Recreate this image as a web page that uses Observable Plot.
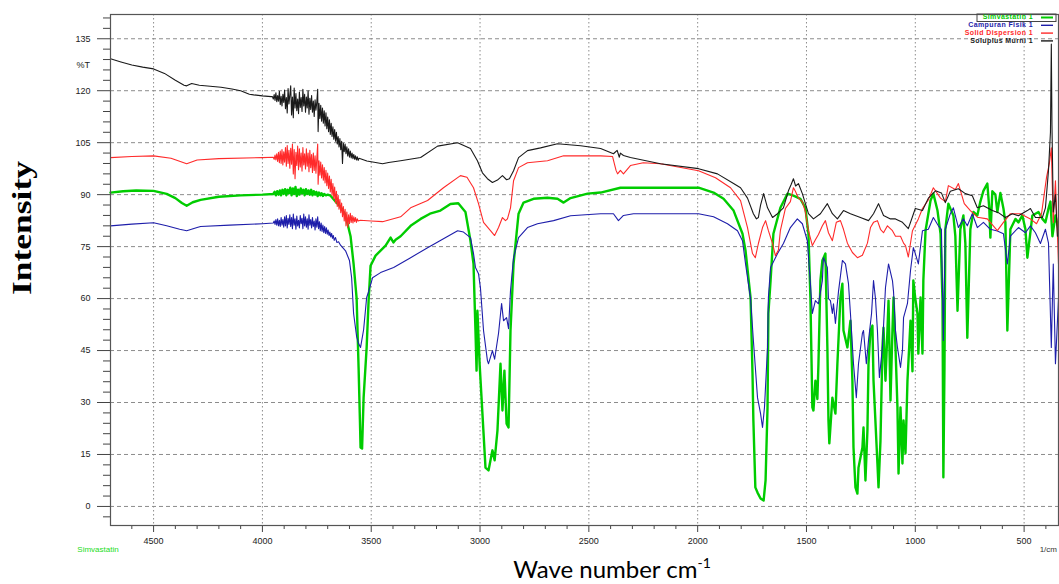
<!DOCTYPE html>
<html>
<head>
<meta charset="utf-8">
<script src="https://cdn.jsdelivr.net/npm/d3@7"></script>
<script src="https://cdn.jsdelivr.net/npm/@observablehq/plot@0.6"></script>
<style>
  html, body { margin: 0; padding: 0; background: #fff; }
  svg { display: block; }
</style>
</head>
<body>
<script>
// FTIR spectra: [wavenumber (1/cm), %T]
const xTicks = [4500, 4000, 3500, 3000, 2500, 2000, 1500, 1000, 500];
const yTicks = [0, 15, 30, 45, 60, 75, 90, 105, 120, 135];

const seriesNames = ["Simvastatin 1", "Campuran Fisik 1", "Solid Dispersion 1", "Soluplus Murni 1"];
const seriesColors = ["#00cc00", "#1e1eaa", "#ff2a2a", "#1a1a1a"];

const simvastatin = [
  [4698,90.6],[4640,91],[4580,91.2],[4500,91.1],[4440,90.2],[4400,89],[4370,87.6],[4348,86.8],[4320,87.8],[4284,88.5],
  [4200,89.4],[4100,89.8],[4000,90],[3950,90.2],[3944,90.8],[3938,89.8],[3932,91],[3926,90],[3920,91.2],[3914,89.8],
  [3908,91.4],[3902,90.2],[3896,91.6],[3890,89.8],[3884,91.4],[3878,90.4],[3872,92],[3866,89.8],[3860,91.8],[3854,90.2],
  [3848,92.2],[3842,89.6],[3836,91.4],[3830,90],[3824,91.8],[3818,90.4],[3812,91.4],[3806,89.8],[3800,91.6],[3794,90.2],
  [3788,91.2],[3782,90],[3776,91.4],[3770,89.8],[3764,91],[3758,90],[3752,90.8],[3746,89.6],[3740,90.6],[3734,89.8],
  [3728,90.4],[3722,89.6],[3716,90.2],[3708,89.8],[3700,90],[3687,89.7],[3664,88],[3641,86.5],[3618,84],[3595,78],
  [3581,70],[3567,60],[3558,40],[3552,25],[3549,17],[3542,16.7],[3535,31.4],[3521,45.9],[3512,59.4],[3503,69.5],
  [3480,72.4],[3434,75.3],[3411,77.6],[3398,76.2],[3388,77],[3365,78],[3319,81],[3273,83],[3230,84.5],[3182,85.4],
  [3136,87.3],[3100,87.5],[3067,85],[3044,76.7],[3030,70],[3021,50.8],[3016,39.2],[3012,56.5],[3002,41.2],[2989,26.8],
  [2975,11.2],[2961,10.4],[2950,14],[2943,16.2],[2933,13.3],[2920,21.9],[2906,41.2],[2897,27.7],[2888,39.2],[2878,23.9],
  [2869,22.8],[2860,50.8],[2846,70],[2823,84.5],[2800,87.7],[2754,88.8],[2690,89.1],[2644,88.8],[2616,87.7],[2584,89],
  [2506,90.3],[2446,90.6],[2355,92],[2200,92],[1996,92],[1927,90.6],[1881,88.8],[1835,85.4],[1794,78.7],[1780,73.8],
  [1757,60.3],[1748,38.4],[1744,24.8],[1735,5.5],[1725,4],[1711,2.3],[1697,1.7],[1688,7.5],[1679,28.6],[1675,55.7],
  [1665,65.2],[1652,78.7],[1620,86.2],[1587,90.3],[1560,89.7],[1528,88.8],[1505,86.2],[1491,78.7],[1482,60.3],[1473,28.6],
  [1468,27.7],[1459,36.3],[1450,31],[1445,41.2],[1436,65.2],[1427,71],[1413,73],[1404,45.9],[1399,24.8],[1395,18.2],
  [1381,31.4],[1367,26.8],[1358,41.2],[1344,60.3],[1335,64.3],[1330,50.8],[1312,45.9],[1298,53.6],[1289,36.3],[1284,17],
  [1275,5.5],[1266,3.7],[1261,11.2],[1243,17],[1238,22.8],[1229,7.5],[1220,21.9],[1215,41.2],[1206,50.8],[1197,52.2],
  [1192,36.3],[1174,12.4],[1169,5.5],[1160,19],[1151,45.9],[1146,51.6],[1137,36.3],[1128,50.8],[1123,59.4],[1114,30.6],
  [1105,50.8],[1100,60.3],[1091,45.9],[1082,28.6],[1077,9.5],[1068,28.6],[1059,12.4],[1054,24.8],[1045,15.3],[1036,36.3],
  [1032,41.2],[1022,53.6],[1013,39],[1009,65.2],[1000,60],[990,55.7],[986,44.1],[976,60.3],[967,44.1],[963,65.2],
  [953,79.6],[930,88.3],[917,90.3],[898,85.4],[884,78.7],[875,59.4],[871,8.4],[866,40],[862,80],[848,87.4],
  [839,86],[825,84],[816,78],[806,56.5],[793,80],[779,84],[770,76],[761,48.7],[747,80],[733,85],
  [715,84],[701,88],[687,91.1],[669,93.2],[660,86],[655,77.6],[646,91],[632,90],[623,85],[609,90.5],
  [595,86],[586,82],[577,50.8],[563,80],[540,83],[526,82],[508,84],[494,80],[485,71.8],[462,84],
  [434,85],[416,83],[402,82],[388,86],[379,88],[370,78],[356,84],[342,80]
];

const campuranFisik = [
  [4698,81],[4600,81.5],[4500,81.9],[4440,81],[4380,80],[4348,79.6],[4300,80.5],[4284,80.8],[4150,81.2],[4000,81.6],
  [3950,81.8],[3946,82.4],[3942,81.4],[3938,82.8],[3934,81.2],[3930,83],[3926,81],[3922,82.6],[3918,80.8],[3914,83.4],
  [3910,81.2],[3906,82.8],[3902,80.6],[3898,83.6],[3894,81],[3890,84],[3886,80.4],[3882,83.2],[3878,81.4],[3874,84.2],
  [3870,80.8],[3866,83.4],[3862,80.2],[3858,84.4],[3854,81.2],[3850,83],[3846,80],[3842,83.8],[3838,81],[3834,82.6],
  [3830,80.4],[3826,84],[3822,81.6],[3818,83.2],[3814,80.2],[3810,84.4],[3806,81],[3802,83.6],[3798,80.6],[3794,83],
  [3790,80],[3786,84.2],[3782,81.2],[3778,82.8],[3774,80.4],[3770,83.4],[3766,80.8],[3762,82.4],[3758,79.8],[3754,83],
  [3750,80.6],[3746,83.6],[3742,80.2],[3738,82.2],[3734,79.6],[3730,81.8],[3726,79.4],[3722,81.2],[3718,79],[3714,80.8],
  [3710,78.8],[3706,80.4],[3702,78.6],[3698,79.8],[3694,78.2],[3690,79.2],[3686,77.8],[3682,78.8],[3678,77.4],[3674,78.2],
  [3670,76.8],[3664,77.6],[3658,76.2],[3650,76.4],[3641,75.4],[3618,73.8],[3600,71],[3590,66],[3581,55.7],[3567,49],
  [3558,47],[3549,45.9],[3535,51],[3521,60.3],[3512,62],[3494,66],[3457,67.5],[3397,69],[3319,71.8],[3241,74.7],
  [3168,77.3],[3103,79.6],[3076,79.2],[3044,77.6],[3030,73],[3021,69],[3007,67.2],[2998,63],[2984,50.8],[2966,42.1],
  [2961,41.2],[2943,45],[2933,42.5],[2915,50],[2901,58.6],[2892,53.6],[2878,54.5],[2869,51.3],[2860,62.3],[2846,71.8],
  [2823,77.6],[2782,80.5],[2736,81.6],[2662,82.5],[2584,83.9],[2446,84.5],[2387,84.5],[2364,82.5],[2341,84],[2295,84.5],
  [2100,84.5],[1996,84.5],[1927,83.6],[1863,81.6],[1817,79.6],[1794,76.7],[1780,70],[1757,60],[1744,47.9],[1725,31.4],
  [1711,26.8],[1702,22.8],[1693,28.6],[1679,45.9],[1675,60.3],[1665,69],[1633,73],[1606,75.9],[1574,80.5],[1542,83],
  [1519,81.6],[1496,76.7],[1482,64.3],[1473,55.7],[1459,59.4],[1445,58.5],[1427,65.2],[1422,71.8],[1404,69],[1399,60],
  [1390,59.4],[1381,55.7],[1376,58.5],[1367,52.8],[1353,62],[1335,71],[1321,70],[1307,64.3],[1298,55.7],[1284,41.2],
  [1271,31.4],[1261,41.2],[1243,50],[1238,50.8],[1225,41.2],[1215,47.9],[1201,55.7],[1192,65.2],[1183,60],[1174,50.8],
  [1165,37.2],[1151,45.9],[1137,63.2],[1123,70],[1105,65.2],[1100,62],[1091,50.8],[1082,45.9],[1068,40.1],[1059,45],
  [1054,54.5],[1036,58.6],[1022,68.1],[1009,74.7],[1000,73],[986,70],[967,79.6],[940,80],[917,83.4],[894,81],
  [880,80],[871,47.9],[862,80],[839,84.5],[825,86.2],[802,80.5],[779,83],[761,81],[738,84.5],[715,80.5],
  [687,82],[655,80],[623,79.5],[595,78.7],[577,70],[563,78],[526,80.5],[494,79],[471,81],[448,79],
  [425,75.9],[402,80],[388,76],[375,45.9],[366,70],[356,41.2],[342,60]
];

const solidDispersion = [
  [4698,100.7],[4600,101],[4500,101.2],[4420,100.5],[4348,98.9],[4300,100],[4200,100.4],[4000,100.7],[3950,100.8],[3946,100.2],
  [3942,101.4],[3938,100],[3934,101.8],[3930,99.6],[3926,102.2],[3922,99.2],[3918,102.6],[3914,99],[3910,103],[3906,98.6],
  [3902,102.4],[3898,99.4],[3894,103.6],[3890,98.2],[3886,104.2],[3882,99],[3878,102.8],[3874,97.6],[3870,103.4],[3866,98.8],
  [3862,104.6],[3858,96],[3854,103],[3850,94.6],[3846,102.2],[3842,98.4],[3838,104],[3834,97.2],[3830,103.2],[3826,98],
  [3822,102],[3818,96.8],[3814,103.6],[3810,98.6],[3806,101.8],[3802,97.4],[3798,103.2],[3794,98.2],[3790,102],[3786,96.6],
  [3782,102.8],[3778,97.8],[3774,101.6],[3770,96.4],[3766,102],[3762,97],[3758,101.2],[3754,96.2],[3750,100.4],[3746,104.6],
  [3744,93],[3740,99.8],[3736,95.6],[3732,99.4],[3728,94.8],[3724,98.6],[3720,94.2],[3716,97.8],[3712,93.4],[3708,97],
  [3704,92.6],[3700,96.2],[3696,91.8],[3692,95.4],[3688,90.8],[3684,94.4],[3680,89.8],[3676,93.2],[3672,88.8],[3668,92.2],
  [3664,87.6],[3660,91],[3656,86.6],[3652,89.8],[3648,85.8],[3644,88.6],[3640,84.8],[3636,87.6],[3632,83.6],[3628,86.6],
  [3624,82.4],[3620,85.8],[3616,81],[3612,85],[3608,80.6],[3604,84.2],[3600,81.6],[3596,84.6],[3592,82],[3588,84],
  [3584,81.8],[3580,83.6],[3576,82.2],[3572,83.4],[3568,82],[3564,83],[3560,82.4],[3550,82.6],[3500,82.4],[3448,82.2],
  [3365,83.6],[3319,86.2],[3241,88.3],[3168,92],[3090,95.5],[3060,95],[3030,92],[3007,87.4],[2984,82],[2952,79.6],
  [2933,78.2],[2915,80.5],[2897,83.4],[2883,82.5],[2874,83],[2860,86.2],[2846,94],[2823,97.8],[2782,99.2],[2690,99.8],
  [2616,101.2],[2446,101.2],[2391,101],[2375,97],[2368,96],[2355,97],[2341,96],[2309,98.4],[2250,99.2],[2171,98.9],
  [1996,96.9],[1918,94.9],[1849,92],[1803,88.3],[1771,80.5],[1748,73],[1735,71.8],[1721,75.9],[1702,80.5],[1688,82.5],
  [1675,79.6],[1656,75.9],[1643,72.4],[1629,74],[1620,79.6],[1597,86],[1574,88],[1560,92],[1551,91],[1537,89],
  [1519,88],[1505,85],[1491,79.6],[1473,75.3],[1459,77],[1445,78.5],[1427,81],[1413,82.5],[1399,79],[1381,76.7],
  [1363,82],[1344,82.5],[1330,80],[1312,76],[1289,73.3],[1266,71.8],[1243,72.5],[1220,76],[1206,80.5],[1192,82],
  [1174,82.5],[1160,80],[1146,79],[1128,81],[1105,79.6],[1091,78],[1068,78],[1054,76],[1045,75.3],[1032,72],
  [1013,79.6],[986,83],[967,86],[940,88.5],[917,92],[884,89],[862,88],[848,92.6],[816,91.5],[802,93.2],
  [775,87.4],[747,85.4],[715,83.5],[669,83],[623,79.6],[595,82],[563,84.5],[517,84.5],[471,83],[443,81.6],
  [420,84.5],[397,95],[384,99],[375,103.5],[366,82],[356,94],[342,70]
];

const soluplusMurni = [
  [4698,129.2],[4650,128.3],[4600,127.4],[4550,126.8],[4500,126.3],[4450,125],[4400,123],[4360,121.6],[4348,121.4],[4325,122.1],
  [4290,121.6],[4240,121.3],[4190,121],[4140,120.5],[4100,120],[4060,119],[4040,118.8],[4000,118.5],[3960,118.3],[3954,118.3],
  [3950,117.6],[3946,118.9],[3942,117.2],[3938,119.4],[3934,116.8],[3930,118.6],[3926,117],[3922,119.8],[3918,116],[3914,118.4],
  [3910,115.6],[3906,119],[3902,116.6],[3898,120.2],[3894,114.8],[3890,118],[3886,113.6],[3882,120.6],[3878,116.2],[3874,118.8],
  [3870,121.4],[3866,113],[3862,118.2],[3858,112.2],[3854,120.8],[3850,115],[3846,119.2],[3842,114.2],[3838,117.6],[3834,113.4],
  [3830,119.6],[3826,115.2],[3822,118],[3818,114],[3814,120.4],[3810,115.6],[3806,119],[3802,113.8],[3798,118.2],[3794,115],
  [3790,120],[3786,113.2],[3782,117.8],[3778,114.6],[3774,118.6],[3770,113.8],[3766,117],[3762,112.6],[3758,117.4],[3754,114.4],
  [3750,116.8],[3746,120.4],[3744,108.2],[3740,116.4],[3736,112],[3732,115.8],[3728,111.2],[3724,115],[3720,110.6],[3716,114.2],
  [3712,109.8],[3708,113.6],[3704,109],[3700,112.4],[3696,108.2],[3692,111.6],[3688,107.4],[3684,110.6],[3680,106.8],[3676,109.6],
  [3672,106],[3668,108.8],[3664,105.4],[3660,108],[3656,104.6],[3652,106.8],[3648,103.8],[3644,106.2],[3640,103],[3636,105.4],
  [3632,99],[3628,104.8],[3624,102.4],[3620,104.6],[3616,101.8],[3612,103.8],[3608,101.2],[3604,103.2],[3600,100.8],[3596,102.6],
  [3592,100.6],[3588,102],[3584,100.4],[3580,101.6],[3576,100.2],[3572,101.2],[3568,100],[3564,100.9],[3560,99.9],[3556,100.5],
  [3520,99.7],[3480,99.3],[3448,98.9],[3420,99.3],[3365,99.8],[3273,100.7],[3195,104],[3103,105],[3044,103.3],[3012,99.8],
  [2989,96.3],[2966,94.6],[2943,93.5],[2920,94.2],[2897,95.5],[2878,94.3],[2865,94.6],[2846,96.9],[2823,100.7],[2782,102.7],
  [2722,103.5],[2644,104.7],[2538,104.1],[2446,103.3],[2387,101.8],[2370,102.8],[2360,100.8],[2355,102],[2341,101.3],[2309,100.7],
  [2171,98.9],[1996,97.5],[1909,96],[1835,93.2],[1803,92],[1771,89],[1744,84.5],[1730,83],[1721,83.4],[1711,87],
  [1697,90.3],[1679,86.2],[1656,83.4],[1633,84.5],[1606,86.2],[1583,91.1],[1570,93],[1560,94.6],[1550,92.5],[1537,93.2],
  [1519,90.3],[1491,84.5],[1468,83],[1436,84.5],[1404,87.4],[1381,84.5],[1358,83],[1330,85.4],[1298,84.5],[1252,83.4],
  [1215,82.5],[1192,84.5],[1169,87.4],[1146,84],[1114,83],[1091,83],[1059,82],[1032,80.2],[1000,86],[967,85.4],
  [940,89],[907,91.1],[880,90.5],[862,87.7],[839,91],[802,91.7],[770,90.3],[738,89.7],[715,86.2],[687,86.8],
  [646,85.4],[618,84.8],[586,83.4],[554,84.5],[526,83.9],[485,85.4],[471,86],[448,83.4],[416,83.4],[402,86.2],
  [388,97],[379,108],[375,133.5],[372,110],[366,85],[356,90],[347,78]
];

const spectra = [simvastatin, campuranFisik, solidDispersion, soluplusMurni];
const lineWidths = [2.4, 1.1, 1.1, 1.1];

const yMinor = d3.range(-3, 142, 3).filter(v => v % 15 !== 0);
const xMinor = d3.range(4600, 340, -100).filter(v => v % 500 !== 0);
const fmt = d => `${d}`;

const chart = Plot.plot({
  width: 1059,
  height: 584,
  marginLeft: 110,
  marginRight: 1,
  marginTop: 14,
  marginBottom: 59,
  style: { fontFamily: "Liberation Sans, Arial, sans-serif", fontSize: "9px", background: "#fff", color: "#222" },
  x: { domain: [4698, 342], axis: null },
  y: { domain: [-5.5, 142], axis: null },
  marks: [
    Plot.gridY(yTicks, { stroke: "#8c8c8c", strokeOpacity: 1, strokeDasharray: "4,3" }),
    Plot.gridX(xTicks, { stroke: "#8c8c8c", strokeOpacity: 1, strokeDasharray: "1.5,2.5" }),
    Plot.axisY(yMinor, { tickSize: 7, text: null, stroke: "#444", label: null }),
    Plot.axisY(yTicks, { tickSize: 13, tickPadding: 7, stroke: "#444", fill: "#222", tickFormat: fmt, label: null }),
    Plot.axisX(xMinor, { tickSize: 4, text: null, stroke: "#444", label: null }),
    Plot.axisX(xTicks, { tickSize: 7, tickPadding: 5, stroke: "#444", fill: "#222", tickFormat: fmt, label: null }),
    ...spectra.map((data, i) =>
      Plot.line(data, { x: d => d[0], y: d => d[1], stroke: seriesColors[i], strokeWidth: lineWidths[i] })
    ),
    Plot.frame({ stroke: "#555", strokeWidth: 1.2 })
  ]
});

document.body.appendChild(chart);

const svg = d3.select(chart);
const yScale = chart.scale("y");

// %T unit marker on the value axis
svg.append("text")
  .attr("x", 90).attr("y", yScale.apply(127.2))
  .attr("text-anchor", "end").attr("dominant-baseline", "middle")
  .attr("font-size", 9).attr("fill", "#222")
  .text("%T");

// Legend, upper right inside the frame
const legend = svg.append("g").attr("font-family", "Liberation Sans, Arial, sans-serif")
  .attr("font-size", 7).attr("font-weight", "bold");
seriesNames.forEach((name, i) => {
  const y = 17.5 + i * 7.8;
  legend.append("text").attr("x", 1033).attr("y", y).attr("text-anchor", "end")
    .attr("dominant-baseline", "middle").attr("fill", seriesColors[i]).attr("letter-spacing", 0.4).text(name);
  legend.append("line").attr("x1", 1041).attr("x2", 1053).attr("y1", y).attr("y2", y)
    .attr("stroke", seriesColors[i]).attr("stroke-width", i === 0 ? 2 : 1.4);
});
legend.append("rect").attr("x", 977).attr("y", 14).attr("width", 79).attr("height", 7.5)
  .attr("fill", "none").attr("stroke", "#444").attr("stroke-width", 1);

// Sample name and unit under the axis
svg.append("text").attr("x", 98).attr("y", 552).attr("font-size", 8).attr("fill", "#22dd22")
  .text("Simvastatin");
svg.append("text").attr("x", 1057).attr("y", 552).attr("font-size", 8).attr("fill", "#333")
  .attr("text-anchor", "end").text("1/cm");

// Axis titles
svg.append("text")
  .attr("transform", "translate(25,228) rotate(-90)")
  .attr("text-anchor", "middle").attr("dominant-baseline", "middle")
  .attr("font-family", "Liberation Serif, Times New Roman, serif")
  .attr("font-weight", "bold").attr("font-size", 27)
  .attr("textLength", 134).attr("lengthAdjust", "spacingAndGlyphs")
  .attr("fill", "#000")
  .text("Intensity");

const xt = svg.append("text")
  .attr("x", 612).attr("y", 578).attr("text-anchor", "middle")
  .attr("font-family", "Lato, Open Sans, sans-serif").attr("font-size", 24).attr("fill", "#000");
xt.append("tspan").text("Wave number cm");
xt.append("tspan").attr("dy", -10).attr("font-size", 14).text("-1");
</script>
</body>
</html>
